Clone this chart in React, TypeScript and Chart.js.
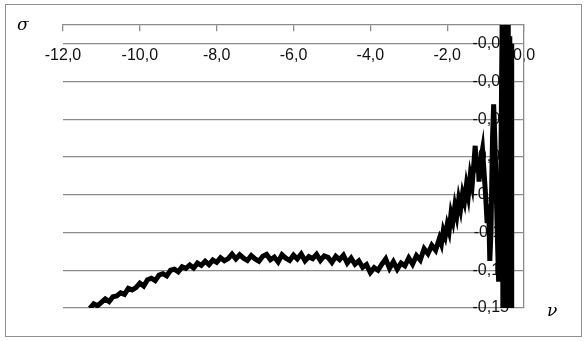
import React, { useEffect, useRef } from "react";
import { Chart, registerables } from "chart.js";

Chart.register(...registerables);

// ν values (x) and σ values (y)
const nu: number[] = [
  -11.3, -11.2, -11.1, -11.0, -10.9, -10.8, -10.7, -10.6, -10.5, -10.4,
  -10.3, -10.2, -10.1, -10.0, -9.9, -9.8, -9.7, -9.6, -9.5, -9.4,
  -9.3, -9.2, -9.1, -9.0, -8.9, -8.8, -8.7, -8.6, -8.5, -8.4,
  -8.3, -8.2, -8.1, -8.0, -7.9, -7.8, -7.7, -7.6, -7.5, -7.4,
  -7.3, -7.2, -7.1, -7.0, -6.9, -6.8, -6.7, -6.6, -6.5, -6.4,
  -6.3, -6.2, -6.1, -6.0, -5.9, -5.8, -5.7, -5.6, -5.5, -5.4,
  -5.3, -5.2, -5.1, -5.0, -4.9, -4.8, -4.7, -4.6, -4.5, -4.4,
  -4.3, -4.2, -4.1, -4.0, -3.9, -3.8, -3.7, -3.6, -3.5, -3.4,
  -3.3, -3.2, -3.1, -3.0, -2.9, -2.8, -2.7, -2.6, -2.5, -2.4,
  -2.3, -2.2, -2.15, -2.1, -2.05, -2.0, -1.95, -1.9, -1.85, -1.8,
  -1.75, -1.7, -1.65, -1.6, -1.55, -1.5, -1.45, -1.4, -1.35, -1.3,
  -1.27, -1.24, -1.2, -1.17, -1.13, -1.08, -1.04, -1.0, -0.96, -0.92,
  -0.89, -0.86, -0.82, -0.79, -0.76, -0.72, -0.69, -0.66, -0.63, -0.6,
  -0.57, -0.55, -0.53, -0.51, -0.49, -0.47, -0.45, -0.43, -0.41, -0.39,
  -0.37, -0.35, -0.33, -0.32,
];

const sigma: number[] = [
  -0.1502, -0.1478, -0.1488, -0.147, -0.1452, -0.1466, -0.144, -0.1436, -0.142, -0.1428,
  -0.1396, -0.1404, -0.1392, -0.1368, -0.1384, -0.135, -0.1342, -0.1355, -0.1325, -0.1318,
  -0.133, -0.13, -0.1294, -0.1308, -0.1282, -0.129, -0.1272, -0.1288, -0.1262, -0.1274,
  -0.1252, -0.127, -0.1246, -0.1258, -0.1234, -0.125, -0.1238, -0.1215, -0.124, -0.1218,
  -0.1236, -0.1248, -0.1222, -0.124, -0.1252, -0.1226, -0.1216, -0.1244, -0.123, -0.1256,
  -0.1218, -0.1236, -0.1248, -0.122, -0.124, -0.1214, -0.125, -0.1228, -0.1238, -0.1216,
  -0.1248, -0.1224, -0.1232, -0.1258, -0.1226, -0.1244, -0.122, -0.1262, -0.1236, -0.1268,
  -0.125, -0.1285, -0.127, -0.1312, -0.1286, -0.13, -0.1268, -0.124, -0.129, -0.1255,
  -0.1294, -0.1262, -0.1276, -0.1235, -0.1268, -0.1222, -0.1246, -0.1186, -0.1212, -0.1168,
  -0.1194, -0.113, -0.116, -0.109, -0.112, -0.106, -0.1095, -0.1, -0.104, -0.096,
  -0.101, -0.0925, -0.0975, -0.0895, -0.0935, -0.085, -0.0905, -0.08, -0.085, -0.072,
  -0.064, -0.078, -0.07, -0.083, -0.072, -0.066, -0.078, -0.09, -0.105, -0.095,
  -0.125, -0.11, -0.06, -0.042, -0.06, -0.09, -0.115, -0.136, -0.11, -0.07,
  0.0, -0.15, -0.02, -0.15, 0.0, -0.15, -0.005, -0.15, 0.0, -0.15,
  -0.006, -0.15, -0.01, -0.15,
];

const xTickStep = 2;
const xMin = -12;
const xMax = 0;
const yMin = -0.15;
const yMax = 0;
const yTickValues: number[] = [-0.15, -0.13, -0.11, -0.09, -0.07, -0.05, -0.03, -0.01];

const fmt = (v: number, d: number) => v.toFixed(d).replace(".", ",");

const GRID = "#8c8c8c";
const FONT = { family: "'Liberation Sans', Arial, sans-serif", size: 16 };

export default function App() {
  const ref = useRef<HTMLCanvasElement | null>(null);

  useEffect(() => {
    if (!ref.current) return;
    const chart = new Chart(ref.current, {
      type: "line",
      data: {
        datasets: [
          {
            data: nu.map((x, i) => ({ x, y: sigma[i] })),
            borderColor: "#000",
            borderWidth: 5,
            pointRadius: 0,
            tension: 0,
            fill: false,
          },
        ],
      },
      options: {
        animation: false,
        responsive: false,
        maintainAspectRatio: false,
        layout: { padding: { left: 63, top: 25, bottom: 33, right: 61 } },
        plugins: { legend: { display: false }, tooltip: { enabled: false }, title: { display: false } },
        scales: {
          x: {
            type: "linear",
            min: xMin,
            max: xMax,
            position: { y: 0 } as any,
            ticks: {
              stepSize: xTickStep,
              callback: (v: any) => fmt(Number(v), 1),
              font: FONT,
              color: "#111",
              padding: 15,
              maxRotation: 0,
              autoSkip: false,
            },
            grid: { drawOnChartArea: false, drawTicks: true, tickLength: 6, color: GRID, lineWidth: 1.3 },
            border: { display: true, color: GRID, width: 1.3 },
          },
          y: {
            type: "linear",
            min: yMin,
            max: yMax,
            position: "right",
            afterBuildTicks: (s: any) => {
              s.ticks = yTickValues.map((value) => ({ value }));
            },
            afterFit: (s: any) => {
              s.width = 0;
            },
            ticks: {
              mirror: true,
              padding: -15,
              callback: (v: any) => fmt(Number(v), 2),
              font: FONT,
              color: "#111",
            },
            grid: { drawTicks: false, color: GRID, lineWidth: 1.3 },
            border: { display: true, color: GRID, width: 1.3 },
          },
        },
      },
    });
    return () => chart.destroy();
  }, []);

  const sym: React.CSSProperties = {
    position: "absolute",
    fontFamily: "'DejaVu Serif', serif",
    fontStyle: "italic",
    fontSize: 17,
    lineHeight: "17px",
    color: "#000",
  };

  return (
    <div style={{ position: "fixed", left: 0, top: 0, width: 585, height: 341, background: "#fff" }}>
      <div
        style={{
          position: "absolute",
          left: 5,
          top: 4,
          width: 577,
          height: 333,
          border: "1.5px solid #8f8f8f",
          boxSizing: "border-box",
        }}
      />
      <canvas ref={ref} width={585} height={341} style={{ position: "absolute", left: 0, top: 0, width: 585, height: 341 }} />
      <span style={{ ...sym, left: 17, top: 16 }}>σ</span>
      <span style={{ ...sym, left: 547, top: 302 }}>ν</span>
    </div>
  );
}
